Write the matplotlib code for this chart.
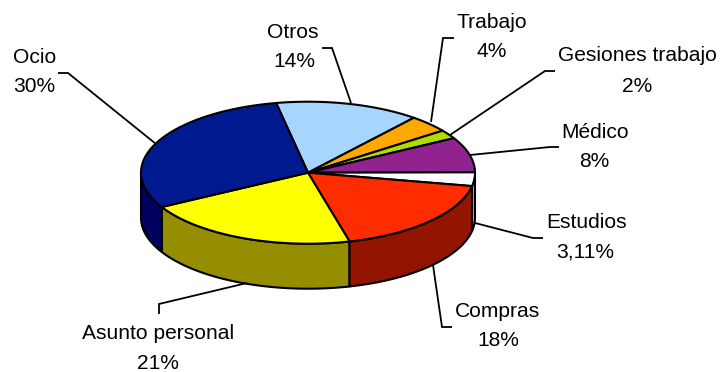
import numpy as np
import matplotlib
matplotlib.use("Agg")
import matplotlib.pyplot as plt
from matplotlib.patches import Polygon

categories = ["Otros", "Trabajo", "Gesiones trabajo", "Médico", "Estudios", "Compras", "Asunto personal", "Ocio"]
values = [14, 4, 2, 8, 3.11, 18, 21, 30]
value_labels = ["14%", "4%", "2%", "8%", "3,11%", "18%", "21%", "30%"]
top_colors = ["#A6D5FF", "#FFA800", "#B0DC00", "#92228F", "#FFFFFF", "#FF2C00", "#FFFF00", "#021A90"]
side_colors = ["#6A8AA6", "#A66D00", "#728F00", "#5F165D", "#AEAEAE", "#931500", "#948E00", "#00005E"]

plt.rcParams["font.family"] = ["Liberation Sans", "DejaVu Sans"]
fig = plt.figure(figsize=(7.2, 3.72), dpi=100)
ax = fig.add_axes([0, 0, 1, 1])
ax.set_xlim(0, 720)
ax.set_ylim(372, 0)
ax.axis("off")

cx, cy, rx, ry, depth = 308.0, 172.7, 167.0, 71.0, 45.0
start = 101.0
edge = dict(edgecolor="black", linewidth=1.5, joinstyle="round")


def ell(a):
    r = np.radians(a)
    return cx + rx * np.cos(r), cy - ry * np.sin(r)


shares = np.array(values, dtype=float)
sweeps = shares / shares.sum() * 360.0
ends = start - np.cumsum(sweeps)
begins = ends + sweeps

# side walls: only the part of each slice facing the viewer
walls = []
for b, e, col in zip(begins, ends, side_colors):
    a0, a1 = max(e, -180.0), min(b, 0.0)
    if a1 > a0:
        walls.append((a0, a1, col))
walls.sort(key=lambda w: abs((w[0] + w[1]) / 2 + 90))
for a0, a1, col in walls:
    t = np.linspace(a0, a1, 60)
    x, y = ell(t)
    pts = np.r_[np.c_[x, y], np.c_[x[::-1], y[::-1] + depth]]
    ax.add_patch(Polygon(pts, closed=True, facecolor=col, zorder=2, **edge))

# top faces
for b, e, col in zip(begins, ends, top_colors):
    t = np.linspace(e, b, 80)
    x, y = ell(t)
    pts = np.r_[[[cx, cy]], np.c_[x, y]]
    ax.add_patch(Polygon(pts, closed=True, facecolor=col, zorder=3, **edge))

name_xy = [(293, 38), (492, 28), (637, 61), (595, 138), (587, 228), (498, 317), (158, 339), (34.5, 63)]
value_xy = [(294, 67), (492, 57), (637, 92), (594, 167), (585, 257), (498, 346), (158, 369), (34, 92)]
for name, val, (nx, ny), (vx, vy) in zip(categories, value_labels, name_xy, value_xy):
    ax.text(nx, ny, name, ha="center", va="baseline", fontsize=15.1, color="black", zorder=5)
    ax.text(vx, vy, val, ha="center", va="baseline", fontsize=15.1, color="black", zorder=5)

leaders = [[(322, 48), (332, 48), (351, 103)],
           [(454, 38), (443, 38), (431, 122)],
           [(555, 71), (545, 71), (450, 135)],
           [(559, 147), (550, 147), (470, 155)],
           [(543, 238), (533, 238), (475, 223)],
           [(452, 327), (442, 327), (433, 265)],
           [(159, 314), (159, 304), (247, 283)],
           [(58, 73), (68, 73), (156, 144)]]
for path in leaders:
    xs, ys = zip(*path)
    ax.plot(xs, ys, color="black", lw=1.3, zorder=4, solid_capstyle="butt", solid_joinstyle="miter")

fig.savefig("out.png", dpi=100, facecolor="white")
